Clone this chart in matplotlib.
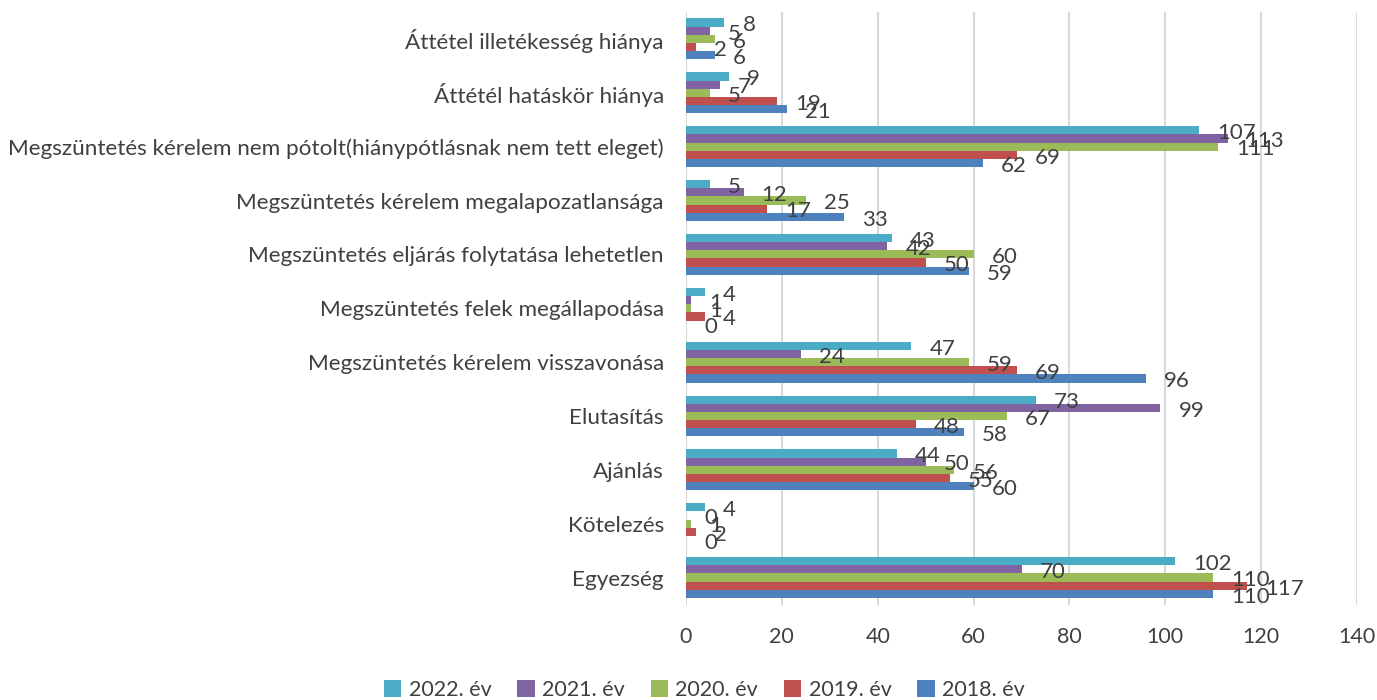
import matplotlib
matplotlib.use("Agg")
import matplotlib.pyplot as plt
from matplotlib.patches import Patch

plt.rcParams['font.family'] = ['Lato', 'DejaVu Sans']

categories = [
    "Egyezség",
    "Kötelezés",
    "Ajánlás",
    "Elutasítás",
    "Megszüntetés kérelem visszavonása",
    "Megszüntetés felek megállapodása",
    "Megszüntetés eljárás folytatása lehetetlen",
    "Megszüntetés kérelem megalapozatlansága",
    "Megszüntetés kérelem nem pótolt(hiánypótlásnak nem tett eleget)",
    "Áttétél hatáskör hiánya",
    "Áttétel illetékesség hiánya",
]

years = ["2018. év", "2019. év", "2020. év", "2021. év", "2022. év"]
v2018 = [110, 0, 60, 58, 96, 0, 59, 33, 62, 21, 6]
v2019 = [117, 2, 55, 48, 69, 4, 50, 17, 69, 19, 2]
v2020 = [110, 1, 56, 67, 59, 1, 60, 25, 111, 5, 6]
v2021 = [70, 0, 50, 99, 24, 1, 42, 12, 113, 7, 5]
v2022 = [102, 4, 44, 73, 47, 4, 43, 5, 107, 9, 8]
series = [v2018, v2019, v2020, v2021, v2022]
colors = ["#4F81BD", "#C0504D", "#9BBB59", "#8064A2", "#4BACC6"]

W, H = 1377, 700
fig = plt.figure(figsize=(W / 100, H / 100), dpi=100)
ax = fig.add_axes([686 / W, 1 - 604.5 / H, (1357 - 686) / W, (604.5 - 12) / H])

h = 0.152
ypos = list(range(len(categories)))
for i, (vals, c) in enumerate(zip(series, colors)):
    off = (i - 2) * h
    ys = [y + off for y in ypos]
    ax.barh(ys, vals, height=h, color=c, zorder=3)
    for y, v in zip(ys, vals):
        ax.annotate(str(v), xy=(v, y), xytext=(13, -2), textcoords='offset points',
                    ha='left', va='center', fontsize=16, color='#404040', zorder=4)

ax.set_xlim(0, 140)
ax.set_ylim(-0.5, len(categories) - 0.5)
ax.set_xticks(range(0, 141, 20))
ax.set_yticks(ypos)
ax.set_yticklabels(categories, fontsize=16.2)
ax.tick_params(axis='both', length=0, labelcolor='#404040')
ax.tick_params(axis='x', labelsize=15.5, pad=16)
ax.tick_params(axis='y', pad=16)
ax.xaxis.grid(True, color='#D9D9D9', lw=1.5, zorder=0)
for s in ax.spines.values():
    s.set_visible(False)

handles = [Patch(facecolor=c) for c in colors[::-1]]
fig.legend(handles, years[::-1], loc='center', bbox_to_anchor=(704.5 / W, 1 - 690 / H),
           ncol=5, frameon=False, fontsize=15.5, handlelength=0.8, handleheight=0.8,
           columnspacing=1.2, handletextpad=0.35, labelcolor='#404040')

fig.savefig("out.png", dpi=100)
